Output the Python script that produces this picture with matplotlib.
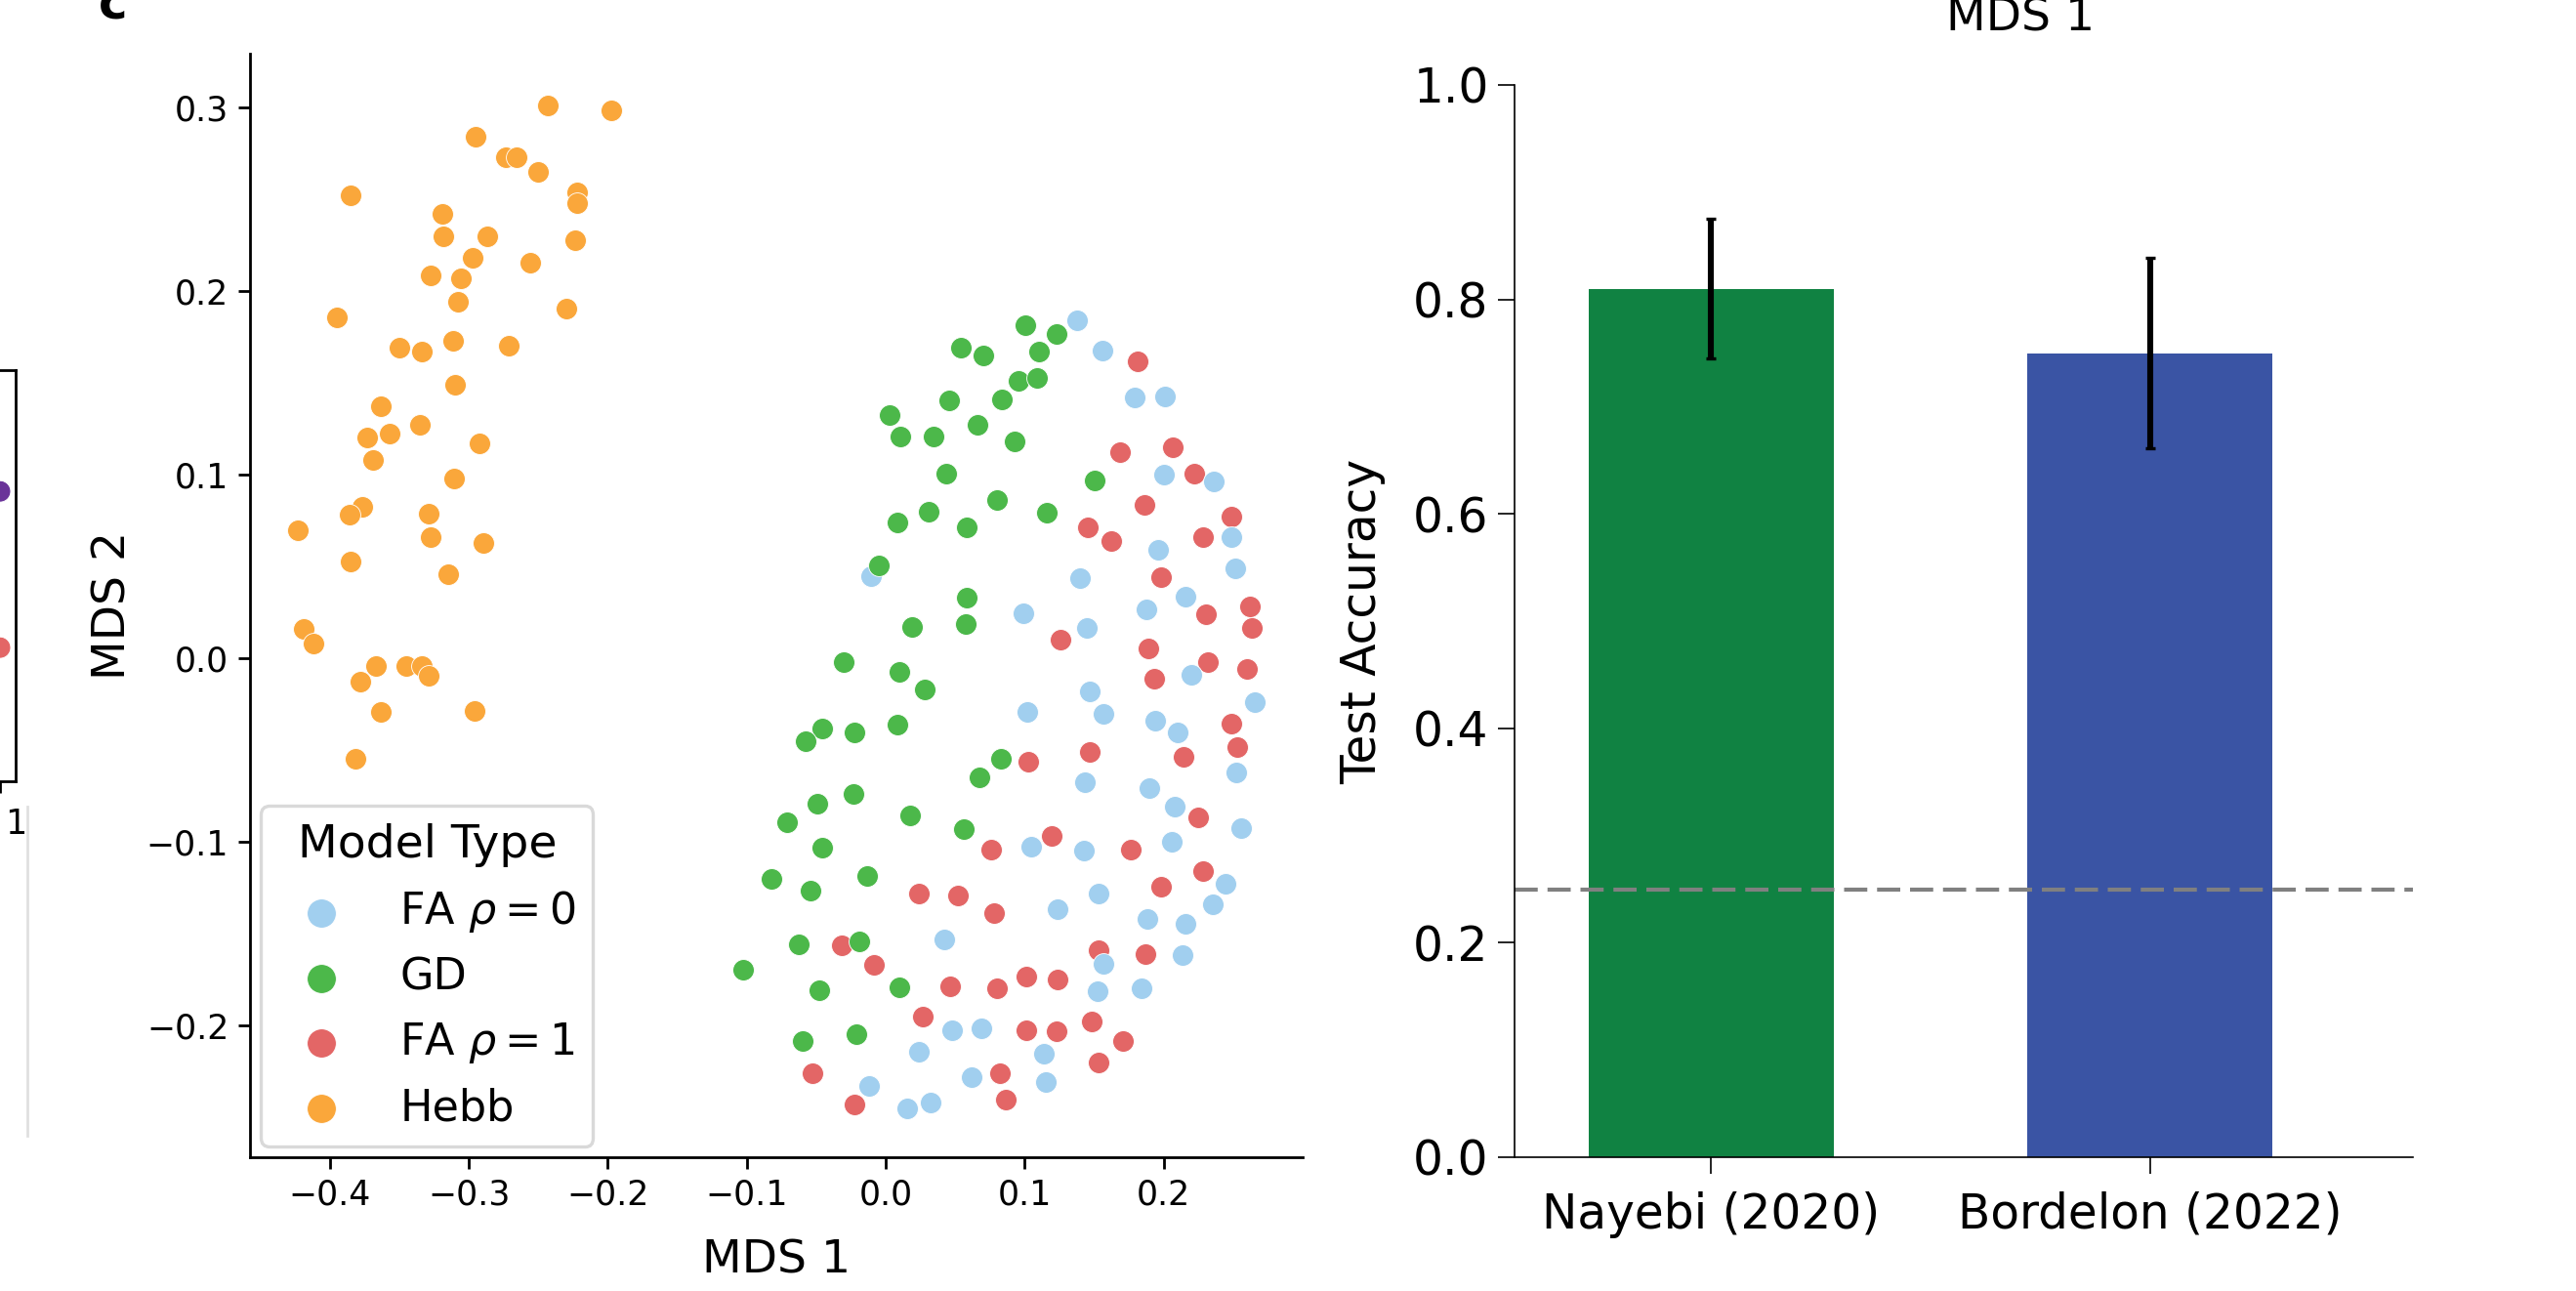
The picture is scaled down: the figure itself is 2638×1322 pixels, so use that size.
import matplotlib.pyplot as plt
from matplotlib.lines import Line2D

# --- DONNEES : projection MDS des modeles ---
fa0_x = [0.1380, 0.1561, 0.1788, 0.2006, 0.2001, 0.2359, 0.2484, 0.1963, 0.2514, -0.0109,
         0.1401, 0.2155, 0.1876, 0.0987, 0.1450, 0.2202, 0.1465, 0.2653, 0.1564, 0.1016,
         0.1939, 0.2100, 0.2525, 0.1433, 0.1896, 0.2082, 0.2560, 0.1048, 0.1424, 0.2056,
         0.2443, 0.1528, 0.1238, 0.2351, 0.1884, 0.2158, 0.0424, 0.1569, 0.2135, 0.1523,
         0.1841, 0.0477, 0.0687, 0.1138, 0.0238, 0.0617, 0.1150, -0.0117, 0.0320, 0.0157]
fa0_y = [0.1839, 0.1672, 0.1418, 0.1422, 0.0996, 0.0963, 0.0655, 0.0589, 0.0487, 0.0444,
         0.0435, 0.0334, 0.0263, 0.0241, 0.0164, -0.0091, -0.0181, -0.0241, -0.0306, -0.0293,
         -0.0343, -0.0409, -0.0622, -0.0676, -0.0711, -0.0809, -0.0927, -0.1030, -0.1048, -0.1002,
         -0.1232, -0.1285, -0.1367, -0.1342, -0.1424, -0.1450, -0.1532, -0.1665, -0.1621, -0.1814,
         -0.1801, -0.2028, -0.2020, -0.2156, -0.2147, -0.2282, -0.2310, -0.2331, -0.2420, -0.2454]

gd_x = [0.1004, 0.1232, 0.0544, 0.0704, 0.1103, 0.0958, 0.1089, 0.0457, 0.0838, 0.0025,
        0.0104, 0.0343, 0.0661, 0.0926, 0.0434, 0.1500, 0.0798, 0.0311, 0.0084, 0.0585,
        0.1162, -0.0051, 0.0585, 0.0576, 0.0191, -0.0301, 0.0101, 0.0279, -0.0458, -0.0578,
        -0.0222, 0.0081, 0.0829, 0.0672, -0.0231, -0.0493, -0.0709, 0.0174, 0.0564, -0.0458,
        -0.0825, -0.0545, -0.0135, -0.0624, -0.0193, -0.1023, -0.0479, 0.0096, -0.0595, -0.0211]
gd_y = [0.1812, 0.1761, 0.1690, 0.1647, 0.1666, 0.1507, 0.1522, 0.1401, 0.1407, 0.1323,
        0.1205, 0.1205, 0.1269, 0.1179, 0.1005, 0.0966, 0.0860, 0.0795, 0.0735, 0.0709,
        0.0791, 0.0502, 0.0328, 0.0185, 0.0168, -0.0021, -0.0078, -0.0175, -0.0386, -0.0455,
        -0.0409, -0.0362, -0.0548, -0.0652, -0.0743, -0.0793, -0.0897, -0.0858, -0.0934, -0.1035,
        -0.1202, -0.1266, -0.1186, -0.1559, -0.1544, -0.1697, -0.1809, -0.1793, -0.2085, -0.2050]

fa1_x = [0.1812, 0.1683, 0.2062, 0.2219, 0.1861, 0.2484, 0.1453, 0.2283, 0.1625, 0.1983,
         0.2618, 0.2306, 0.2636, 0.1255, 0.1890, 0.2316, 0.2601, 0.1931, 0.2484, 0.2531,
         0.1467, 0.2146, 0.1027, 0.2248, 0.1197, 0.0760, 0.1762, 0.2286, 0.1983, 0.0235,
         0.0518, 0.0783, 0.1532, 0.1866, -0.0316, -0.0082, 0.0463, 0.0798, 0.1013, 0.1238,
         0.0264, 0.1011, 0.1229, 0.1485, 0.1706, 0.1528, 0.0821, -0.0525, -0.0228, 0.0867]
fa1_y = [0.1614, 0.1121, 0.1149, 0.1004, 0.0832, 0.0767, 0.0713, 0.0659, 0.0634, 0.0440,
         0.0282, 0.0235, 0.0164, 0.0099, 0.0052, -0.0026, -0.0063, -0.0116, -0.0359, -0.0484,
         -0.0512, -0.0537, -0.0564, -0.0867, -0.0970, -0.1044, -0.1044, -0.1160, -0.1246, -0.1282,
         -0.1294, -0.1388, -0.1594, -0.1612, -0.1567, -0.1674, -0.1791, -0.1800, -0.1734, -0.1752,
         -0.1952, -0.2030, -0.2036, -0.1979, -0.2085, -0.2204, -0.2262, -0.2264, -0.2432, -0.2408]

hebb_x = [-0.2433, -0.1972, -0.2954, -0.2736, -0.2659, -0.2502, -0.2223, -0.2223, -0.3851, -0.3188,
          -0.3183, -0.2865, -0.2233, -0.2973, -0.2560, -0.3275, -0.3057, -0.3080, -0.2298, -0.3952,
          -0.3115, -0.2713, -0.3502, -0.3340, -0.3101, -0.3636, -0.3354, -0.3568, -0.3734, -0.2921,
          -0.3689, -0.3108, -0.3769, -0.3856, -0.3286, -0.4231, -0.3275, -0.2897, -0.3849, -0.3150,
          -0.4186, -0.4118, -0.3666, -0.3778, -0.3453, -0.3336, -0.3289, -0.3631, -0.2961, -0.3816]
hebb_y = [0.3010, 0.2981, 0.2837, 0.2725, 0.2725, 0.2645, 0.2533, 0.2476, 0.2519, 0.2420,
          0.2295, 0.2295, 0.2273, 0.2181, 0.2151, 0.2082, 0.2067, 0.1939, 0.1902, 0.1854,
          0.1727, 0.1699, 0.1687, 0.1667, 0.1487, 0.1369, 0.1268, 0.1223, 0.1198, 0.1166,
          0.1076, 0.0974, 0.0823, 0.0781, 0.0785, 0.0695, 0.0656, 0.0628, 0.0526, 0.0455,
          0.0156, 0.0077, -0.0043, -0.0129, -0.0043, -0.0043, -0.0096, -0.0294, -0.0287, -0.0548]

# --- DONNEES : precision de test ---
etudes = ["Nayebi (2020)", "Bordelon (2022)"]
precision = [0.81, 0.75]
err_bas = [0.065, 0.089]
err_haut = [0.065, 0.089]
chance = 0.25

# restes du panneau voisin (coupe a gauche)
reste_x = [0.926, 0.926]
reste_y = [0.325, 0.705]
reste_couleurs = ["#e36666", "#6a3399"]

# couleurs
c_fa0 = "#a1cfef"
c_gd = "#4cb84a"
c_fa1 = "#e36666"
c_hebb = "#faa73b"
c_barres = ["#108242", "#3a54a4"]

W, H = 2638, 1322
fig = plt.figure(figsize=(W / 200, H / 200), dpi=200)

# lettre de panneau coupee en haut a gauche
fig.text(116 / W, 1 - 20 / H, "c", ha="center", va="baseline", fontsize=18, fontweight="bold")

# --- Panneau voisin coupe (bord gauche) ---
ax0 = fig.add_axes([-200 / W, 1 - 800 / H, 216 / W, 421 / H])
ax0.scatter(reste_x, reste_y, c=reste_couleurs, s=62, edgecolors="white", linewidths=0.3,
            clip_on=False, zorder=3)
ax0.set_xlim(0, 1)
ax0.set_ylim(0, 1)
ax0.set_yticks([])
ax0.set_xticks([0.926])
ax0.set_xticklabels([""])
ax0.tick_params(width=1.0, length=4.3)
for s in ax0.spines.values():
    s.set_linewidth(1.0)
# seul le "1" du label de graduation est visible
fig.text(16 / W, 1 - 844 / H, "1", ha="center", va="center", fontsize=12.5)
fig.add_artist(Line2D([28 / W, 28 / W], [1 - 826 / H, 1 - 1163 / H], color="#e0e0e0", lw=1.0))

# --- Panneau MDS ---
ax = fig.add_axes([256 / W, 1 - 1185 / H, 1078 / W, 1130 / H])
taille = 62
ax.scatter(fa1_x, fa1_y, s=taille, color=c_fa1, edgecolors="white", linewidths=0.3, label=r"FA $\rho = 1$")
ax.scatter(fa0_x, fa0_y, s=taille, color=c_fa0, edgecolors="white", linewidths=0.3, label=r"FA $\rho = 0$")
ax.scatter(gd_x, gd_y, s=taille, color=c_gd, edgecolors="white", linewidths=0.3, label="GD")
ax.scatter(hebb_x, hebb_y, s=taille, color=c_hebb, edgecolors="white", linewidths=0.3, label="Hebb")

ax.set_xlim(-0.4575, 0.300)
ax.set_ylim(-0.272, 0.329)
ax.set_xticks([-0.4, -0.3, -0.2, -0.1, 0.0, 0.1, 0.2])
ax.set_yticks([-0.2, -0.1, 0.0, 0.1, 0.2, 0.3])
ax.tick_params(labelsize=12.5, width=1.0, length=4.3)
ax.spines["top"].set_visible(False)
ax.spines["right"].set_visible(False)
ax.spines["left"].set_linewidth(1.0)
ax.spines["bottom"].set_linewidth(1.0)
ax.set_xlabel("MDS 1", fontsize=17, labelpad=10)
ax.set_ylabel("MDS 2", fontsize=17)

# ordre de la legende : FA0, GD, FA1, Hebb
h, l = ax.get_legend_handles_labels()
ordre = [1, 2, 0, 3]
leg = ax.legend([h[i] for i in ordre], [l[i] for i in ordre], title="Model Type",
                loc="lower left", fontsize=16, title_fontsize=17, markerscale=1.36,
                borderaxespad=0.25, framealpha=1)
leg.get_frame().set_edgecolor("#d9d9d9")
leg.get_frame().set_linewidth(1.2)

# --- Panneau precision ---
ax2 = fig.add_axes([1551 / W, 1 - 1185 / H, 920 / W, 1098 / H])
pos = list(range(len(etudes)))
ax2.bar(pos, precision, width=0.558, color=c_barres)
ax2.errorbar(pos, precision, yerr=[err_bas, err_haut], fmt="none", ecolor="black",
             elinewidth=2.2, capsize=1.8, capthick=1.2)
ax2.axhline(chance, color="gray", lw=1.5, ls=(0, (5.7, 2.4)))
ax2.set_xlim(-0.447, 1.598)
ax2.set_ylim(0, 1)
ax2.set_xticks(pos)
ax2.set_xticklabels(etudes)
ax2.set_yticks([0.0, 0.2, 0.4, 0.6, 0.8, 1.0])
ax2.tick_params(labelsize=17.5, width=0.6, length=6)
ax2.tick_params(axis="x", pad=6.5)
ax2.spines["top"].set_visible(False)
ax2.spines["right"].set_visible(False)
ax2.spines["left"].set_linewidth(0.6)
ax2.spines["bottom"].set_linewidth(0.6)
ax2.set_ylabel("Test Accuracy", fontsize=17.5, labelpad=10)

# titre coupe en haut
fig.text(2069 / W, 1 - 31 / H, "MDS 1", ha="center", va="baseline", fontsize=17)

fig.savefig("out.png", dpi=200)
